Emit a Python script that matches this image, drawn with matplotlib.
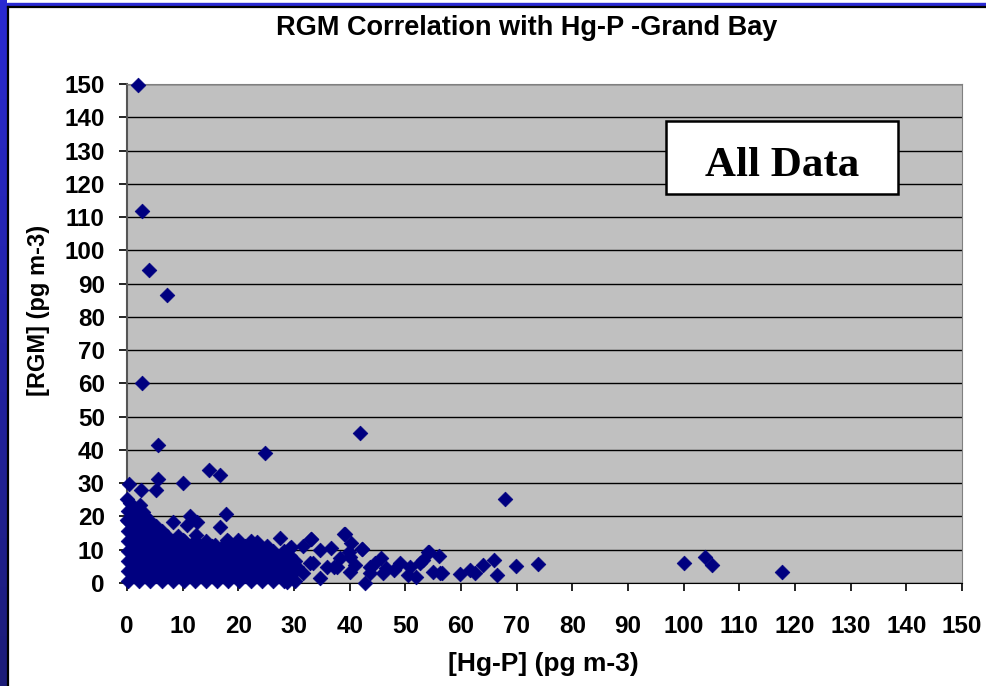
import numpy as np
import matplotlib
matplotlib.use("Agg")
import matplotlib.pyplot as plt
from matplotlib.patches import Rectangle

# high / scattered points
hg_p_high = [1.9, 2.7, 4.0, 7.2, 2.75, 41.9, 5.6, 24.8, 67.9, 14.8, 16.7, 10.1,
             0.4, 5.5, 2.5, 5.2, 0.0, 2.9, 0.0, 17.8, 16.7, 8.3, 11.3, 12.6,
             10.7, 12.4, 27.4, 39.2, 33.0, 42.3, 8.6, 10.0, 20.0, 23.3, 17.9,
             15.8, 0.5, 2.3, 1.2]
rgm_high = [149.7, 111.9, 94.1, 86.6, 60.0, 45.2, 41.5, 39.2, 25.2, 34.0, 32.5, 30.1,
            29.8, 31.2, 28.0, 28.0, 25.2, 21.4, 19.0, 20.7, 16.9, 18.4, 20.1, 18.4,
            17.4, 14.4, 13.6, 14.6, 13.2, 10.2, 11.4, 12.9, 12.9, 12.4, 12.9,
            11.4, 24.0, 23.4, 22.5]

# tail, x > ~28
hg_p_tail = [29.4, 31.7, 33.0, 36.6, 34.7, 39.0, 40.2, 42.3, 39.8, 45.6, 49.0, 54.1,
             56.1, 59.8, 42.8, 37.7, 40.1, 34.7, 28.7, 31.7, 30.5, 33.5, 35.9, 38.3,
             43.6, 46.6, 50.8, 52.0, 53.2, 55.0, 56.2, 43.6, 46.0, 50.5, 52.6, 54.3,
             56.5, 61.6, 62.5, 64.0, 66.0, 66.5, 69.9, 73.8, 100.1, 103.8, 105.1, 117.6,
             37.1, 32.9, 40.1, 29.3, 41.0, 44.5, 48.0]
rgm_tail = [10.7, 11.1, 13.2, 10.4, 9.9, 14.6, 11.9, 10.2, 9.4, 7.4, 5.9, 9.4,
            8.2, 2.7, 0.1, 4.9, 3.4, 1.4, 0.4, 2.9, 4.9, 5.9, 4.9, 7.4,
            4.9, 4.4, 4.9, 1.9, 6.9, 3.4, 2.9, 2.9, 3.1, 2.4, 5.9, 9.4,
            3.1, 3.9, 3.1, 5.4, 6.9, 2.4, 5.1, 5.6, 5.9, 7.9, 5.4, 3.4,
            4.9, 5.9, 7.9, 10.4, 5.5, 6.0, 4.0]

# dense core, x 0-30 (one line per column)
hg_p_core = [0.2, 0.2, 0.2, 0.2, 0.2, 0.2, 0.2, 0.2,
             1.2, 1.2, 1.2, 1.2, 1.2, 1.2, 1.2,
             2.2, 2.2, 2.2, 2.2, 2.2, 2.2, 2.2, 2.2,
             3.2, 3.2, 3.2, 3.2, 3.2, 3.2, 3.2,
             4.2, 4.2, 4.2, 4.2, 4.2, 4.2, 4.2,
             5.2, 5.2, 5.2, 5.2, 5.2, 5.2,
             6.2, 6.2, 6.2, 6.2, 6.2, 6.2,
             7.2, 7.2, 7.2, 7.2, 7.2,
             8.2, 8.2, 8.2, 8.2, 8.2,
             9.2, 9.2, 9.2, 9.2, 9.2,
             10.2, 10.2, 10.2, 10.2, 10.2,
             11.2, 11.2, 11.2, 11.2,
             12.2, 12.2, 12.2, 12.2, 12.2,
             13.2, 13.2, 13.2, 13.2,
             14.2, 14.2, 14.2, 14.2, 14.2,
             15.2, 15.2, 15.2, 15.2,
             16.2, 16.2, 16.2, 16.2,
             17.2, 17.2, 17.2, 17.2,
             18.2, 18.2, 18.2, 18.2, 18.2,
             19.2, 19.2, 19.2, 19.2,
             20.2, 20.2, 20.2, 20.2,
             21.2, 21.2, 21.2, 21.2,
             22.2, 22.2, 22.2, 22.2, 22.2,
             23.2, 23.2, 23.2, 23.2,
             24.2, 24.2, 24.2, 24.2,
             25.2, 25.2, 25.2, 25.2,
             26.2, 26.2, 26.2, 26.2,
             27.2, 27.2, 27.2,
             28.2, 28.2, 28.2, 28.2,
             29.2, 29.2, 29.2,
             30.2, 30.2, 30.2]
rgm_core = [0.5, 3.5, 6.5, 9.5, 12.5, 15.5, 18.5, 21.5,
            2.0, 5.0, 8.0, 11.0, 14.0, 17.0, 20.0,
            0.5, 3.5, 6.5, 9.5, 12.5, 15.5, 18.5, 21.5,
            2.0, 5.0, 8.0, 11.0, 14.0, 17.0, 20.0,
            0.5, 3.5, 6.5, 9.5, 12.5, 15.5, 18.5,
            2.0, 5.0, 8.0, 11.0, 14.0, 17.0,
            0.5, 3.5, 6.5, 9.5, 12.5, 15.5,
            2.0, 5.0, 8.0, 11.0, 14.0,
            0.5, 3.5, 6.5, 9.5, 12.5,
            2.0, 5.0, 8.0, 11.0, 14.0,
            0.5, 3.5, 6.5, 9.5, 12.5,
            2.0, 5.0, 8.0, 11.0,
            0.5, 3.5, 6.5, 9.5, 12.5,
            2.0, 5.0, 8.0, 11.0,
            0.5, 3.5, 6.5, 9.5, 12.5,
            2.0, 5.0, 8.0, 11.0,
            0.5, 3.5, 6.5, 9.5,
            2.0, 5.0, 8.0, 11.0,
            0.5, 3.5, 6.5, 9.5, 12.5,
            2.0, 5.0, 8.0, 11.0,
            0.5, 3.5, 6.5, 9.5,
            2.0, 5.0, 8.0, 11.0,
            0.5, 3.5, 6.5, 9.5, 12.5,
            2.0, 5.0, 8.0, 11.0,
            0.5, 3.5, 6.5, 9.5,
            2.0, 5.0, 8.0, 11.0,
            0.5, 3.5, 6.5, 9.5,
            2.0, 5.0, 8.0,
            0.5, 3.5, 6.5, 9.5,
            2.0, 5.0, 8.0,
            0.5, 3.5, 6.5]

ticks = list(range(0, 151, 10))

plt.rcParams['font.family'] = ['Liberation Sans', 'DejaVu Sans']

fig = plt.figure(figsize=(9.86, 6.86), dpi=100)

# slide frame on the left / top
strip = fig.add_axes([0, 0, 7 / 986, 1])
grad = np.linspace(0, 1, 256).reshape(-1, 1)
cmap = matplotlib.colors.LinearSegmentedColormap.from_list('b', ['#2a2ad2', '#1c1c78'])
strip.imshow(grad, aspect='auto', cmap=cmap, extent=[0, 1, 0, 1], origin='upper')
strip.axis('off')
fig.patches.append(Rectangle((7 / 986, 1 - 6 / 686), 1, 3 / 686, transform=fig.transFigure,
                             color='#2a2ad2', zorder=0))
fig.lines.append(plt.Line2D([8 / 986, 8 / 986], [0, 1 - 7 / 686], transform=fig.transFigure,
                            color='black', lw=1.6))
fig.lines.append(plt.Line2D([8 / 986, 1], [1 - 7 / 686, 1 - 7 / 686], transform=fig.transFigure,
                            color='black', lw=1.6))

ax = fig.add_axes([127 / 986, 1 - 583 / 686, 835 / 986, 499 / 686])
ax.set_facecolor('#c0c0c0')
ax.set_xlim(0, 150)
ax.set_ylim(0, 150)
ax.set_xticks(ticks)
ax.set_yticks(ticks)
ax.tick_params(axis='both', direction='out', length=6, width=1.2, labelsize=17.5)
ax.tick_params(axis='x', pad=17)
ax.tick_params(axis='y', pad=10)
for lab in ax.get_xticklabels() + ax.get_yticklabels():
    lab.set_fontweight('bold')
ax.grid(axis='y', color='black', lw=1)
ax.set_axisbelow(True)
for s in ['top', 'right']:
    ax.spines[s].set_color('#808080')
ax.spines['left'].set_color('#555555')
ax.spines['left'].set_linewidth(1.5)
ax.spines['bottom'].set_color('black')

mk = dict(marker='D', s=56, color='#000080', edgecolors='#000080', linewidths=0.5,
          clip_on=False, zorder=3)
ax.scatter(hg_p_core, rgm_core, **mk)
ax.scatter(hg_p_tail, rgm_tail, **mk)
ax.scatter(hg_p_high, rgm_high, **mk)

ax.add_patch(Rectangle((0.645, 0.779), 0.278, 0.146, transform=ax.transAxes,
                       facecolor='white', edgecolor='black', lw=1.8, zorder=4))
ax.text(0.784, 0.8156, 'All Data', transform=ax.transAxes, ha='center', va='baseline',
        fontsize=31, fontweight='bold', family='Liberation Serif', zorder=5)

fig.text(543 / 986, 1 - 664 / 686, '[Hg-P] (pg m-3)', ha='center', va='center',
         fontsize=19, fontweight='bold')
fig.text(39 / 986, 1 - 310 / 686, '[RGM] (pg m-3)', rotation=90, ha='center', va='center',
         fontsize=17, fontweight='bold')
fig.text(527 / 986, 1 - 28 / 686, 'RGM Correlation with Hg-P -Grand Bay', ha='center',
         va='center', fontsize=19.5, fontweight='bold')

fig.savefig('out.png', dpi=100)
